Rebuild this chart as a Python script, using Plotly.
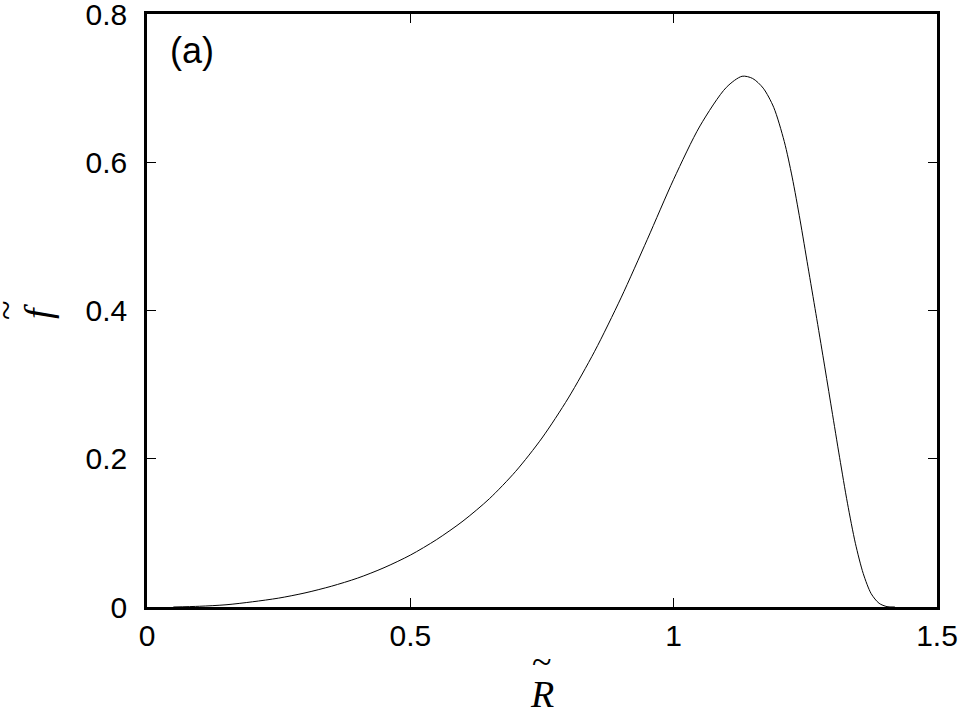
import plotly.graph_objects as go

# curve
r_tilde = [0.05, 0.1, 0.15, 0.2, 0.25, 0.3, 0.35, 0.4, 0.45, 0.5, 0.55, 0.6,
           0.65, 0.7, 0.75, 0.8, 0.85, 0.9, 0.95, 1.0, 1.05, 1.1, 1.13, 1.15,
           1.17, 1.19, 1.21, 1.225, 1.24, 1.255, 1.27, 1.285, 1.30, 1.315, 1.33,
           1.345, 1.36, 1.375, 1.39, 1.405, 1.42]
f_tilde = [0.0, 0.001, 0.003, 0.007, 0.012, 0.019, 0.028, 0.039, 0.053, 0.070, 0.091, 0.116,
           0.146, 0.183, 0.228, 0.282, 0.345, 0.417, 0.496, 0.577, 0.649, 0.701, 0.716, 0.713,
           0.700, 0.674, 0.628, 0.580, 0.522, 0.459, 0.396, 0.332, 0.267, 0.202, 0.140,
           0.086, 0.045, 0.018, 0.005, 0.0005, 0.0]

x_ticks = [0, 0.5, 1, 1.5]
x_labels = ["0", "0.5", "1", "1.5"]
y_ticks = [0, 0.2, 0.4, 0.6, 0.8]
y_labels = ["0", "0.2", "0.4", "0.6", "0.8"]

# plot box in page pixels
X0, X1, Y0, Y1 = 147, 937, 14, 607


def px(x):
    return (x - X0) / (X1 - X0)


def py(y):
    return (Y1 - y) / (Y1 - Y0)


fig = go.Figure()
fig.add_trace(go.Scatter(x=r_tilde, y=f_tilde, mode="lines",
                         line=dict(color="black", width=1, shape="spline", smoothing=0.8),
                         showlegend=False))

axis_common = dict(showgrid=False, zeroline=False, showline=True, linecolor="black",
                   linewidth=2.5, mirror="ticks", ticks="inside", ticklen=9,
                   tickwidth=1, tickcolor="black", ticklabeloverflow="allow",
                   automargin=False,
                   tickfont=dict(family="Liberation Sans", size=30, color="black"))

fig.update_xaxes(range=[0, 1.5], tickvals=x_ticks, ticktext=x_labels,
                 ticklabelstandoff=0, **axis_common)
fig.update_yaxes(range=[0, 0.8], tickvals=y_ticks, ticktext=y_labels,
                 ticklabelstandoff=11, **axis_common)

serif = dict(family="Liberation Serif", size=38, color="black")
tilde = dict(family="Liberation Serif", size=36, color="black")
fig.add_annotation(x=px(542), y=py(694), xref="paper", yref="paper", showarrow=False,
                   text="<i>R</i>", font=serif, xanchor="center", yanchor="middle")
fig.add_annotation(x=px(541), y=py(662), xref="paper", yref="paper", showarrow=False,
                   text="~", font=tilde, xanchor="center", yanchor="middle")
fig.add_annotation(x=px(38), y=py(311), xref="paper", yref="paper", showarrow=False,
                   text="<i>f</i>", font=serif, textangle=-90,
                   xanchor="center", yanchor="middle")
fig.add_annotation(x=px(6), y=py(311), xref="paper", yref="paper", showarrow=False,
                   text="~", font=tilde, textangle=-90,
                   xanchor="center", yanchor="middle")
fig.add_annotation(x=px(168), y=py(28), xref="paper", yref="paper", showarrow=False,
                   text="(a)", font=dict(family="Liberation Sans", size=36, color="black"),
                   xanchor="left", yanchor="top")

fig.update_layout(width=965, height=711,
                  margin=dict(l=147, r=28, t=14, b=104),
                  plot_bgcolor="white", paper_bgcolor="white")

fig.write_html("out.html", config={"displayModeBar": False},
               post_script="document.body.style.margin = '0';")
